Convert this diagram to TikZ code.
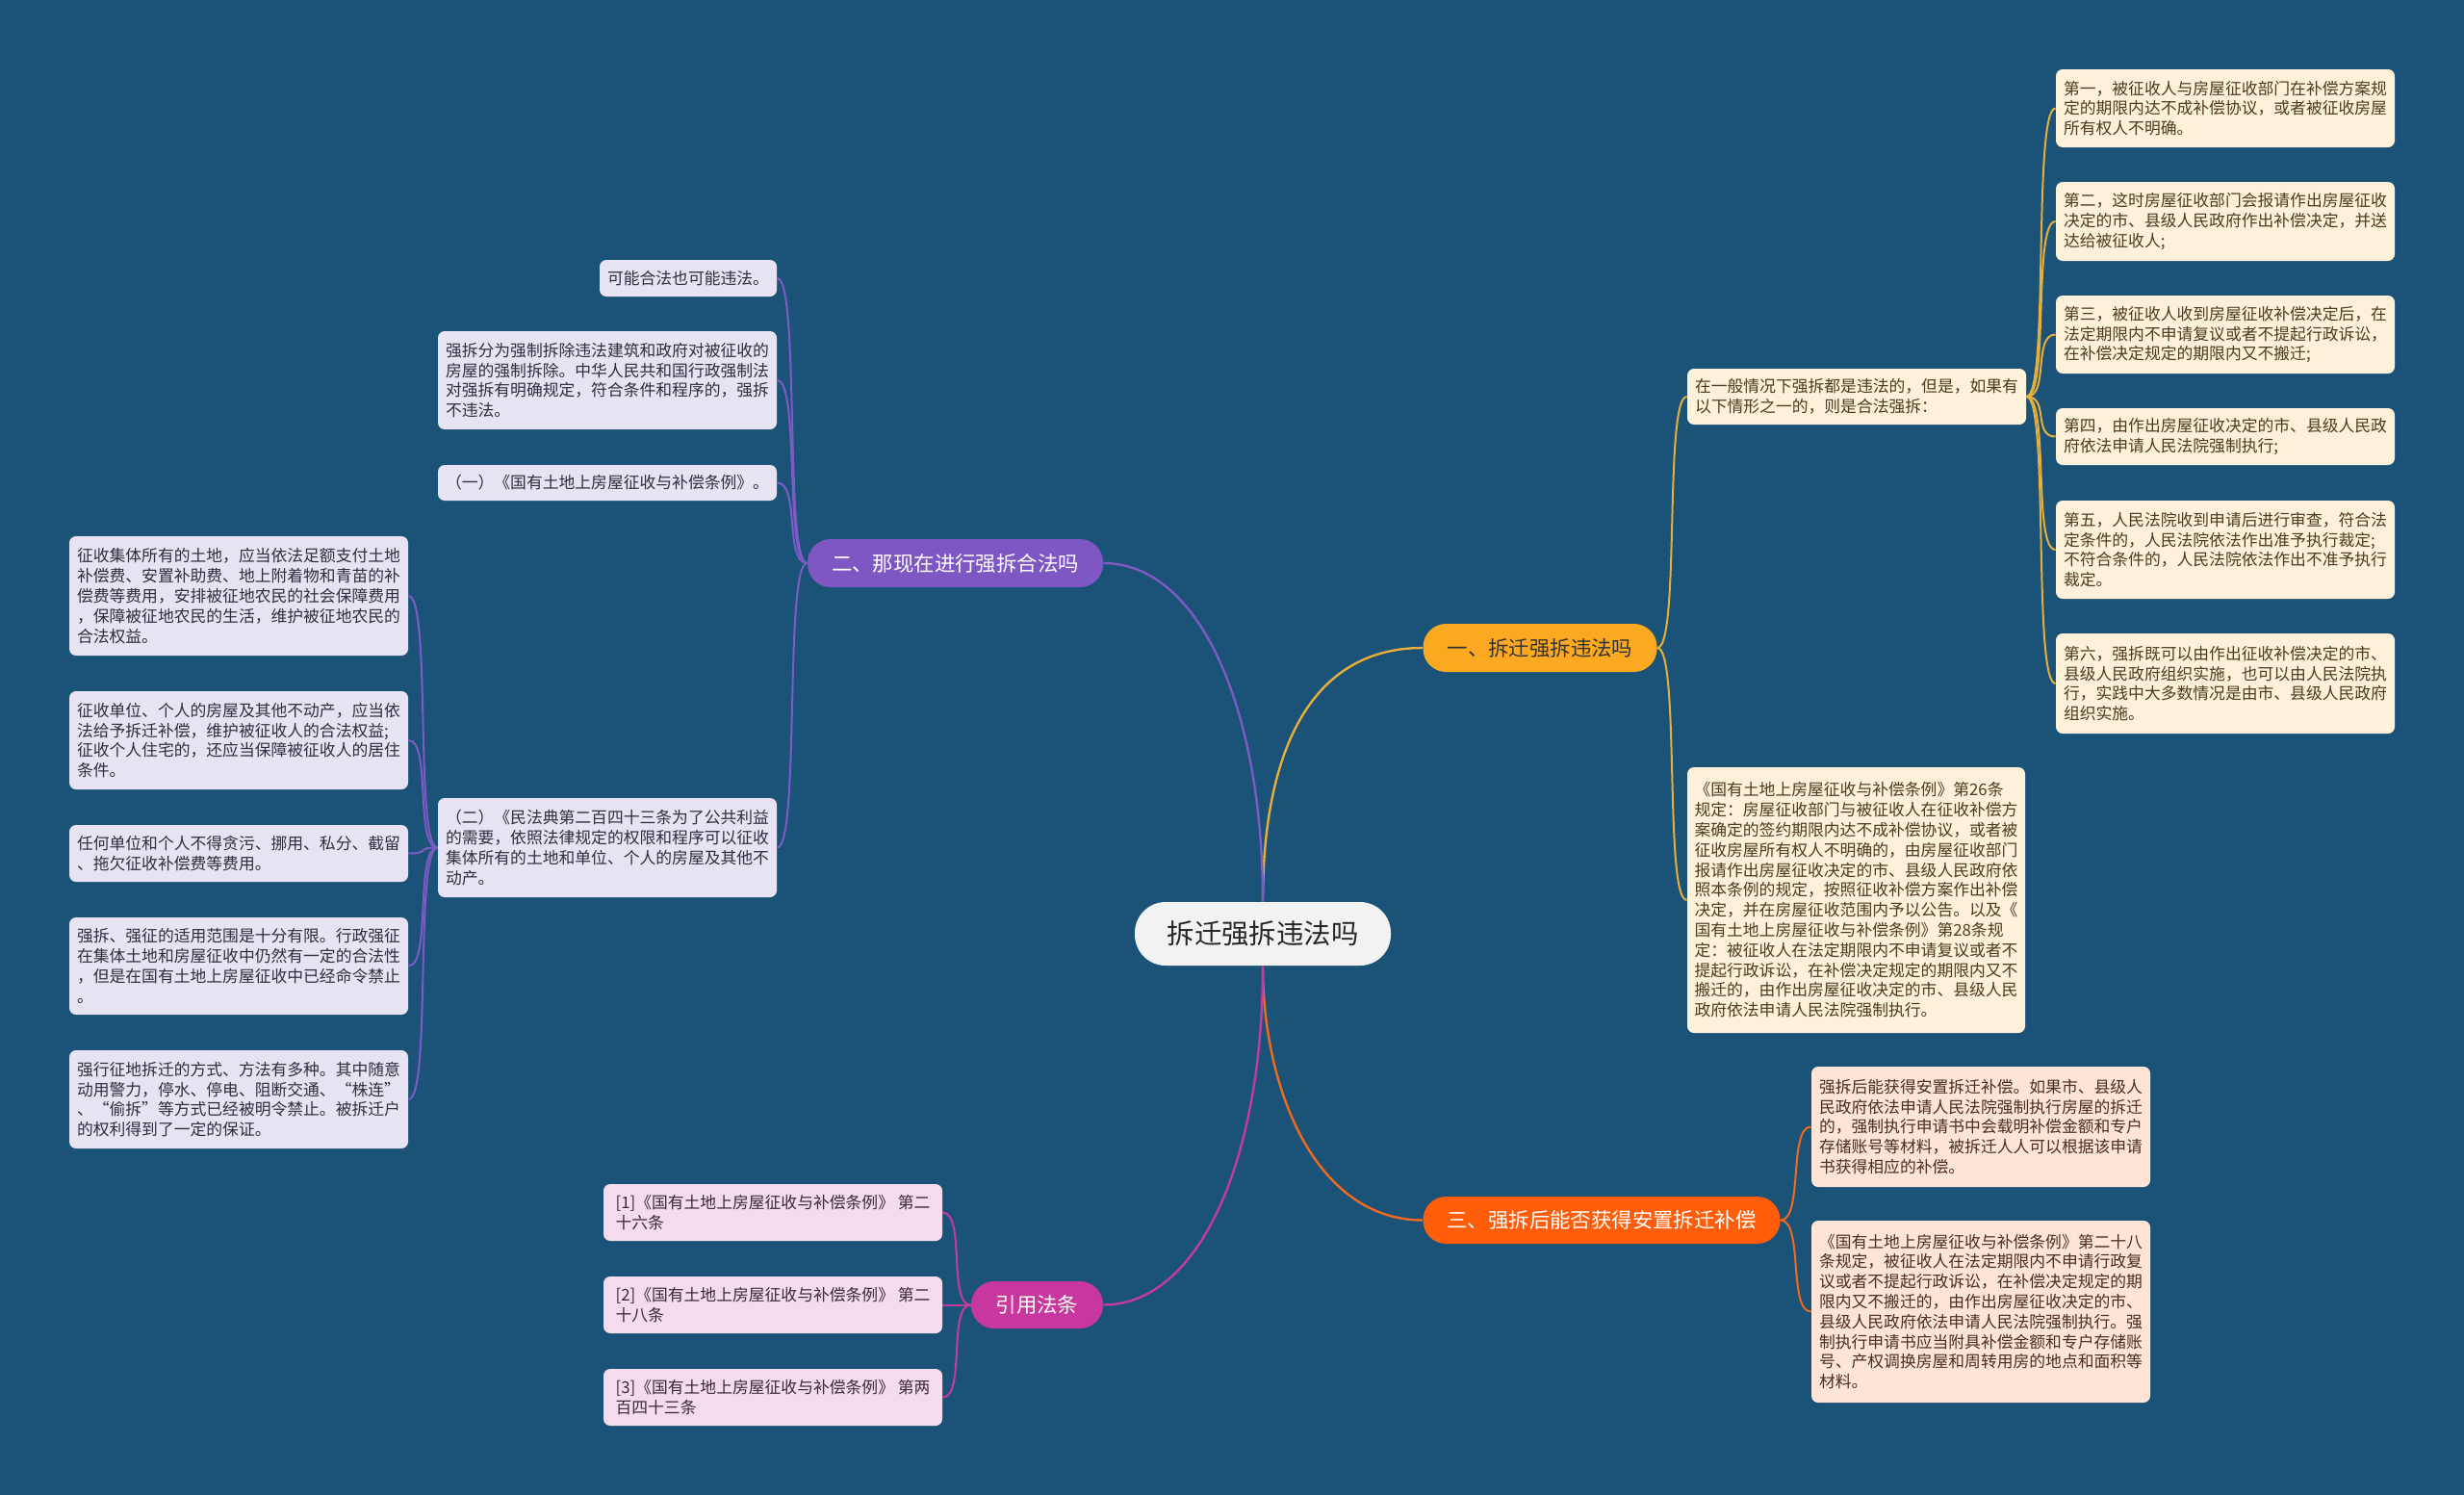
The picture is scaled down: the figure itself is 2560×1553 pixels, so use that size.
\documentclass[tikz,border=0pt]{standalone}
\usepackage{fontspec}
\setmainfont{Noto Sans CJK SC}
\definecolor{bg}{HTML}{1B5277}
\definecolor{yfill}{HTML}{FDF1D9}
\definecolor{ytext}{HTML}{4E3B1E}
\definecolor{yline}{HTML}{E6AE3C}
\definecolor{ybranch}{HTML}{FBA920}
\definecolor{pfill}{HTML}{E7E3F3}
\definecolor{ptext}{HTML}{2E2E40}
\definecolor{pline}{HTML}{7D5BC4}
\definecolor{pbranch}{HTML}{7E57C2}
\definecolor{ofill}{HTML}{FCE4D7}
\definecolor{otext}{HTML}{4A2E1E}
\definecolor{oline}{HTML}{EF6A1E}
\definecolor{obranch}{HTML}{FF5D0A}
\definecolor{mfill}{HTML}{F5DBEE}
\definecolor{mtext}{HTML}{3A2A35}
\definecolor{mline}{HTML}{C23CA0}
\definecolor{mbranch}{HTML}{C7379D}
\definecolor{cfill}{HTML}{F2F2F2}
\tikzset{
  leaf/.style={rounded corners=3.5pt, align=left, inner sep=0pt, font=\fontsize{8.4pt}{10.4pt}\selectfont},
  leafY/.style={leaf, fill=yfill, text=ytext},
  leafP/.style={leaf, fill=pfill, text=ptext},
  leafO/.style={leaf, fill=ofill, text=otext},
  leafM/.style={leaf, fill=mfill, text=mtext},
  branch/.style={rounded corners=12pt, inner sep=0pt, font=\fontsize{10.7pt}{12pt}\selectfont},
  link/.style={line width=1pt},
  mainlink/.style={line width=1.2pt},
}
\begin{document}
\begin{tikzpicture}[x=0.5pt,y=-0.5pt]
\useasboundingbox (0,0) rectangle (2560,1553);
\fill[bg] (0,0) rectangle (2560,1553);

% center
\node[rounded corners=16pt, fill=cfill, text=black!85, inner sep=0pt, minimum width=133pt, minimum height=33pt, font=\fontsize{14.2pt}{16pt}\selectfont] (c) at (1312,970) {拆迁强拆违法吗};

% branches
\node[branch, fill=ybranch, text=black!80, minimum width=121.5pt, minimum height=25pt] (b1) at (1600,673) {一、拆迁强拆违法吗};
\node[branch, fill=pbranch, text=white, minimum width=153.5pt, minimum height=25pt] (b2) at (992.5,585) {二、那现在进行强拆合法吗};
\node[branch, fill=obranch, text=white, minimum width=185.5pt, minimum height=24.5pt] (b3) at (1664,1267.5) {三、强拆后能否获得安置拆迁补偿};
\node[branch, fill=mbranch, text=white, minimum width=68.5pt, minimum height=24.5pt] (b4) at (1077.5,1355.5) {引用法条};

% branch 1 leaves
\node[leafY, minimum width=176pt, minimum height=29pt] (b1a) at (1929,412) {在一般情况下强拆都是违法的，但是，如果有\\以下情形之一的，则是合法强拆：};
\node[leafY, minimum width=175.5pt, minimum height=138pt] (b1b) at (1928.5,935) {《国有土地上房屋征收与补偿条例》第26条\\规定：房屋征收部门与被征收人在征收补偿方\\案确定的签约期限内达不成补偿协议，或者被\\征收房屋所有权人不明确的，由房屋征收部门\\报请作出房屋征收决定的市、县级人民政府依\\照本条例的规定，按照征收补偿方案作出补偿\\决定，并在房屋征收范围内予以公告。以及《\\国有土地上房屋征收与补偿条例》第28条规\\定：被征收人在法定期限内不申请复议或者不\\提起行政诉讼，在补偿决定规定的期限内又不\\搬迁的，由作出房屋征收决定的市、县级人民\\政府依法申请人民法院强制执行。};

\node[leafY, minimum width=176pt, minimum height=40.5pt] (a1) at (2312,112.5) {第一，被征收人与房屋征收部门在补偿方案规\\定的期限内达不成补偿协议，或者被征收房屋\\所有权人不明确。};
\node[leafY, minimum width=176pt, minimum height=41pt] (a2) at (2312,230) {第二，这时房屋征收部门会报请作出房屋征收\\决定的市、县级人民政府作出补偿决定，并送\\达给被征收人;};
\node[leafY, minimum width=176pt, minimum height=40.5pt] (a3) at (2312,347.5) {第三，被征收人收到房屋征收补偿决定后，在\\法定期限内不申请复议或者不提起行政诉讼，\\在补偿决定规定的期限内又不搬迁;};
\node[leafY, minimum width=176pt, minimum height=29.5pt] (a4) at (2312,453.5) {第四，由作出房屋征收决定的市、县级人民政\\府依法申请人民法院强制执行;};
\node[leafY, minimum width=176pt, minimum height=51pt] (a5) at (2312,571) {第五，人民法院收到申请后进行审查，符合法\\定条件的，人民法院依法作出准予执行裁定;\\不符合条件的，人民法院依法作出不准予执行\\裁定。};
\node[leafY, minimum width=176pt, minimum height=52pt] (a6) at (2312,710) {第六，强拆既可以由作出征收补偿决定的市、\\县级人民政府组织实施，也可以由人民法院执\\行，实践中大多数情况是由市、县级人民政府\\组织实施。};

% branch 3 leaves
\node[leafO, minimum width=176pt, minimum height=62.5pt] (o1) at (2058,1170.5) {强拆后能获得安置拆迁补偿。如果市、县级人\\民政府依法申请人民法院强制执行房屋的拆迁\\的，强制执行申请书中会载明补偿金额和专户\\存储账号等材料，被拆迁人人可以根据该申请\\书获得相应的补偿。};
\node[leafO, minimum width=176pt, minimum height=94.5pt] (o2) at (2058,1362.5) {《国有土地上房屋征收与补偿条例》第二十八\\条规定，被征收人在法定期限内不申请行政复\\议或者不提起行政诉讼，在补偿决定规定的期\\限内又不搬迁的，由作出房屋征收决定的市、\\县级人民政府依法申请人民法院强制执行。强\\制执行申请书应当附具补偿金额和专户存储账\\号、产权调换房屋和周转用房的地点和面积等\\材料。};

% branch 2 leaves
\node[leafP, minimum width=92pt, minimum height=19pt] (p1) at (715,289) {可能合法也可能违法。};
\node[leafP, minimum width=176pt, minimum height=51pt] (p2) at (631,395) {强拆分为强制拆除违法建筑和政府对被征收的\\房屋的强制拆除。中华人民共和国行政强制法\\对强拆有明确规定，符合条件和程序的，强拆\\不违法。};
\node[leafP, minimum width=176pt, minimum height=18.5pt] (p3) at (631,501.5) {（一）《国有土地上房屋征收与补偿条例》。};
\node[leafP, minimum width=176pt, minimum height=51.5pt] (p4) at (631,880.5) {（二）《民法典第二百四十三条为了公共利益\\的需要，依照法律规定的权限和程序可以征收\\集体所有的土地和单位、个人的房屋及其他不\\动产。};

\node[leafP, minimum width=176pt, minimum height=62pt] (g1) at (248,619) {征收集体所有的土地，应当依法足额支付土地\\补偿费、安置补助费、地上附着物和青苗的补\\偿费等费用，安排被征地农民的社会保障费用\\，保障被征地农民的生活，维护被征地农民的\\合法权益。};
\node[leafP, minimum width=176pt, minimum height=51pt] (g2) at (248,769) {征收单位、个人的房屋及其他不动产，应当依\\法给予拆迁补偿，维护被征收人的合法权益;\\征收个人住宅的，还应当保障被征收人的居住\\条件。};
\node[leafP, minimum width=176pt, minimum height=29.5pt] (g3) at (248,886.5) {任何单位和个人不得贪污、挪用、私分、截留\\、拖欠征收补偿费等费用。};
\node[leafP, minimum width=176pt, minimum height=50.5pt] (g4) at (248,1003.5) {强拆、强征的适用范围是十分有限。行政强征\\在集体土地和房屋征收中仍然有一定的合法性\\，但是在国有土地上房屋征收中已经命令禁止\\。};
\node[leafP, minimum width=176pt, minimum height=51pt] (g5) at (248,1142) {强行征地拆迁的方式、方法有多种。其中随意\\动用警力，停水、停电、阻断交通、“株连”\\、“偷拆”等方式已经被明令禁止。被拆迁户\\的权利得到了一定的保证。};

% branch 4 leaves
\node[leafM, minimum width=176pt, minimum height=29.5pt] (r1) at (803,1259.5) {[1]《国有土地上房屋征收与补偿条例》 第二\\十六条};
\node[leafM, minimum width=176pt, minimum height=29.5pt] (r2) at (803,1355.5) {[2]《国有土地上房屋征收与补偿条例》 第二\\十八条};
\node[leafM, minimum width=176pt, minimum height=29.5pt] (r3) at (803,1451.5) {[3]《国有土地上房屋征收与补偿条例》 第两\\百四十三条};

% center links
\draw[mainlink, yline] (c.north) .. controls +(0,75pt) and +(-60pt,0) .. (b1.west);
\draw[mainlink, pline] (c.north) .. controls +(0,100pt) and +(50pt,0) .. (b2.east);
\draw[mainlink, oline] (c.south) .. controls +(0,-65pt) and +(-55pt,0) .. (b3.west);
\draw[mainlink, mline] (c.south) .. controls +(0,-100pt) and +(50pt,0) .. (b4.east);

% branch 1 links
\foreach \t in {b1a,b1b}
  \draw[link, yline] (b1.east) .. controls +(12pt,0) and +(-12pt,0) .. (\t.west);
\foreach \t in {a1,a2,a3,a4,a5,a6}
  \draw[link, yline] (b1a.east) .. controls +(12pt,0) and +(-12pt,0) .. (\t.west);
% branch 3 links
\foreach \t in {o1,o2}
  \draw[link, oline] (b3.east) .. controls +(12pt,0) and +(-12pt,0) .. (\t.west);
% branch 2 links
\foreach \t in {p1,p2,p3,p4}
  \draw[link, pline] (b2.west) .. controls +(-12pt,0) and +(12pt,0) .. (\t.east);
\foreach \t in {g1,g2,g3,g4,g5}
  \draw[link, pline] (p4.west) .. controls +(-12pt,0) and +(12pt,0) .. (\t.east);
% branch 4 links
\foreach \t in {r1,r2,r3}
  \draw[link, mline] (b4.west) .. controls +(-12pt,0) and +(12pt,0) .. (\t.east);
\end{tikzpicture}
\end{document}
